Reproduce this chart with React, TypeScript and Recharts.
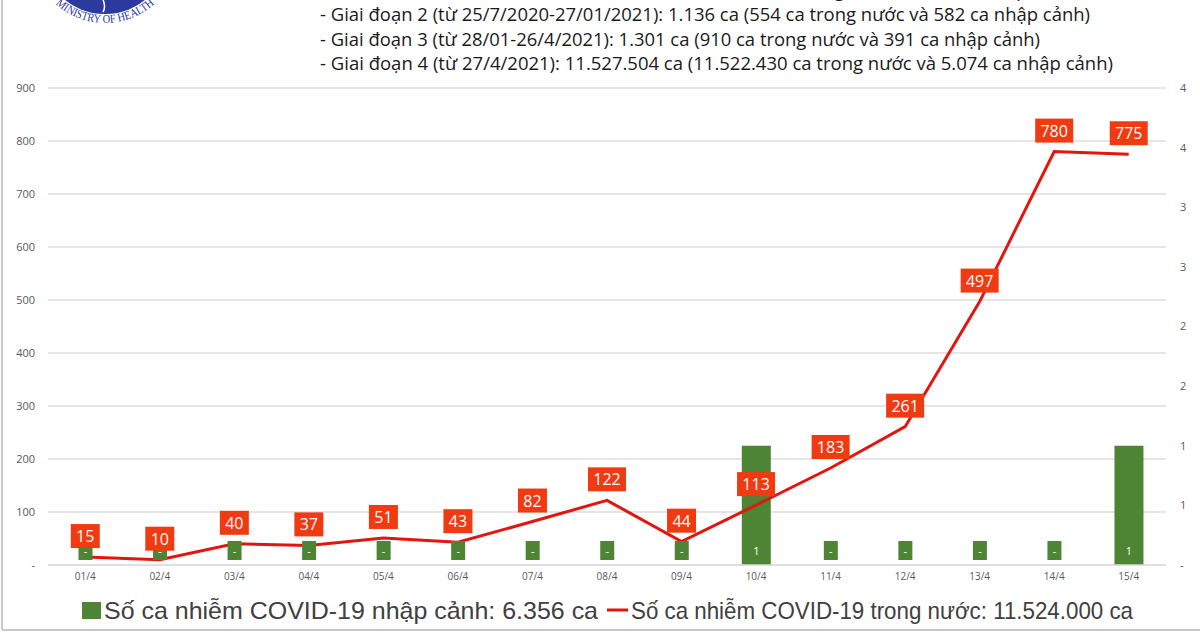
import React from 'react';
import { ComposedChart, Bar, Line, XAxis, YAxis, CartesianGrid, LabelList, Rectangle } from 'recharts';

const days = ['01/4', '02/4', '03/4', '04/4', '05/4', '06/4', '07/4', '08/4', '09/4', '10/4', '11/4', '12/4', '13/4', '14/4', '15/4'];
const domesticCases = [15, 10, 40, 37, 51, 43, 82, 122, 44, 113, 183, 261, 497, 780, 775];
const importedCases = [0, 0, 0, 0, 0, 0, 0, 0, 0, 1, 0, 0, 0, 0, 1];

const leftTicks = [0, 100, 200, 300, 400, 500, 600, 700, 800, 900];
const rightTicks = [0, 0.5, 1, 1.5, 2, 2.5, 3, 3.5, 4];

const stageLines = [
  { text: '- Giai đoạn 1 (từ 23/01/2020-24/7/2020): 415 ca (200 ca trong nước và 215 ca nhập cảnh)', width: 760 },
  { text: '- Giai đoạn 2 (từ 25/7/2020-27/01/2021): 1.136 ca (554 ca trong nước và 582 ca nhập cảnh)', width: 770 },
  { text: '- Giai đoạn 3 (từ 28/01-26/4/2021): 1.301 ca (910 ca trong nước và 391 ca nhập cảnh)', width: 720 },
  { text: '- Giai đoạn 4 (từ 27/4/2021): 11.527.504 ca (11.522.430 ca trong nước và 5.074 ca nhập cảnh)', width: 793 },
];

const importedLegend = 'Số ca nhiễm COVID-19 nhập cảnh: 6.356 ca';
const domesticLegend = 'Số ca nhiễm COVID-19 trong nước: 11.524.000 ca';

const data = days.map((day, i) => ({ day, domestic: domesticCases[i], imported: importedCases[i] }));

const GREEN = '#4e8535';
const RED_LINE = '#e3150f';
const RED_BOX = '#ef3a12';
const AXIS_TEXT = '#595959';
const GRID = '#dcdcdc';
const SEAL_BLUE = '#2b3a9c';

const dash = (v: number) => (v === 0 ? '-' : String(v));

// red boxed value above each point of the domestic line
const LineValueLabel = (props: any) => {
  const { x, y, value } = props;
  const txt = String(value);
  const w = txt.length * 9 + 11;
  return (
    <g>
      <rect x={x - w / 2} y={y - 33} width={w} height={24} fill={RED_BOX} />
      <text x={x} y={y - 15} textAnchor="middle" fill="#fff" fontSize={16} fontFamily="Open Sans, sans-serif">
        {txt}
      </text>
    </g>
  );
};

// small green tag at the foot of each bar ("-" for zero days)
const BarValueLabel = (props: any) => {
  const { x, y, width, height, value } = props;
  const cx = x + width / 2;
  const base = y + height;
  return (
    <g>
      <rect x={cx - 7} y={base - 24} width={14} height={19} fill={GREEN} />
      <text x={cx} y={base - 10} textAnchor="middle" fill="#fff" fontSize={11} fontFamily="Open Sans, sans-serif">
        {dash(Number(value))}
      </text>
    </g>
  );
};

// zero days keep a 1px stub so their labels still render; don't paint it
const ImportedBar = (props: any) => {
  if (!props.payload || !props.payload.imported) return <g />;
  return <Rectangle {...props} />;
};

const Overlay = () => (
  <svg width={1200} height={632} style={{ position: 'absolute', left: 0, top: 0, pointerEvents: 'none' }}>
    <line x1={2} y1={0} x2={2} y2={630} stroke="#c8c8c8" strokeWidth={2} />
    <line x1={2} y1={630} x2={1200} y2={630} stroke="#c8c8c8" strokeWidth={2} />
    {/* ministry seal, mostly above the top edge */}
    <defs>
      <path id="sealArc" d="M 45 -8.4 A 73 73 0 0 0 165 -8.4" />
    </defs>
    <circle cx={105} cy={-50} r={64} fill={SEAL_BLUE} />
    <path d="M 104 -6 C 100 0 108 4 103 12" stroke="#fff" strokeWidth={1.5} fill="none" />
    <text fontSize={12} fill={SEAL_BLUE} fontFamily="Liberation Serif, serif">
      <textPath href="#sealArc" startOffset="50%" textAnchor="middle" textLength={108} lengthAdjust="spacingAndGlyphs">
        MINISTRY OF HEALTH
      </textPath>
    </text>
    {stageLines.map((l, i) => (
      <text
        key={i}
        x={320}
        y={-3.5 + i * 24.5}
        fontSize={19}
        fill="#1a1a1a"
        fontFamily="Open Sans, sans-serif"
        textLength={l.width}
        lengthAdjust="spacingAndGlyphs"
      >
        {l.text}
      </text>
    ))}
    {/* legend */}
    <rect x={82} y={602} width={19} height={17} fill={GREEN} />
    <text x={104} y={619} fontSize={24} fill="#404040" fontFamily="Liberation Sans, Arial, sans-serif" textLength={494} lengthAdjust="spacingAndGlyphs">
      {importedLegend}
    </text>
    <line x1={607} y1={610} x2={628} y2={610} stroke={RED_LINE} strokeWidth={3} />
    <text x={631} y={619} fontSize={24} fill="#404040" fontFamily="Liberation Sans, Arial, sans-serif" textLength={502} lengthAdjust="spacingAndGlyphs">
      {domesticLegend}
    </text>
  </svg>
);

export default function App() {
  return (
    <div style={{ position: 'fixed', left: 0, top: 0, width: 1200, height: 632, background: '#fff', fontFamily: 'Open Sans, sans-serif' }}>
      <ComposedChart width={1200} height={632} data={data} margin={{ top: 88, right: 0, bottom: 47, left: 0 }}>
        <CartesianGrid yAxisId="left" vertical={false} stroke={GRID} strokeWidth={1.5} />
        <XAxis
          dataKey="day"
          height={20}
          tickLine={false}
          tickSize={0}
          tickMargin={8}
          axisLine={{ stroke: GRID, strokeWidth: 1.5 }}
          tick={{ fill: AXIS_TEXT, fontSize: 10 }}
          interval={0}
        />
        <YAxis
          yAxisId="left"
          width={48}
          domain={[0, 900]}
          ticks={leftTicks}
          axisLine={false}
          tickLine={false}
          tickSize={0}
          tickMargin={13}
          tickFormatter={dash}
          tick={{ fill: AXIS_TEXT, fontSize: 11 }}
        />
        <YAxis
          yAxisId="right"
          orientation="right"
          width={34}
          domain={[0, 4]}
          ticks={rightTicks}
          axisLine={false}
          tickLine={false}
          tickSize={0}
          tickMargin={14}
          tickFormatter={(v: number) => (v === 0 ? '-' : String(Math.round(v)))}
          tick={{ fill: AXIS_TEXT, fontSize: 11 }}
        />
        <Bar
          yAxisId="right"
          dataKey="imported"
          fill={GREEN}
          barSize={29}
          minPointSize={1}
          shape={ImportedBar}
          isAnimationActive={false}
        >
          <LabelList dataKey="imported" content={BarValueLabel} />
        </Bar>
        <Line
          yAxisId="left"
          dataKey="domestic"
          type="linear"
          stroke={RED_LINE}
          strokeWidth={3}
          dot={false}
          isAnimationActive={false}
        >
          <LabelList dataKey="domestic" content={LineValueLabel} />
        </Line>
      </ComposedChart>
      <Overlay />
    </div>
  );
}
